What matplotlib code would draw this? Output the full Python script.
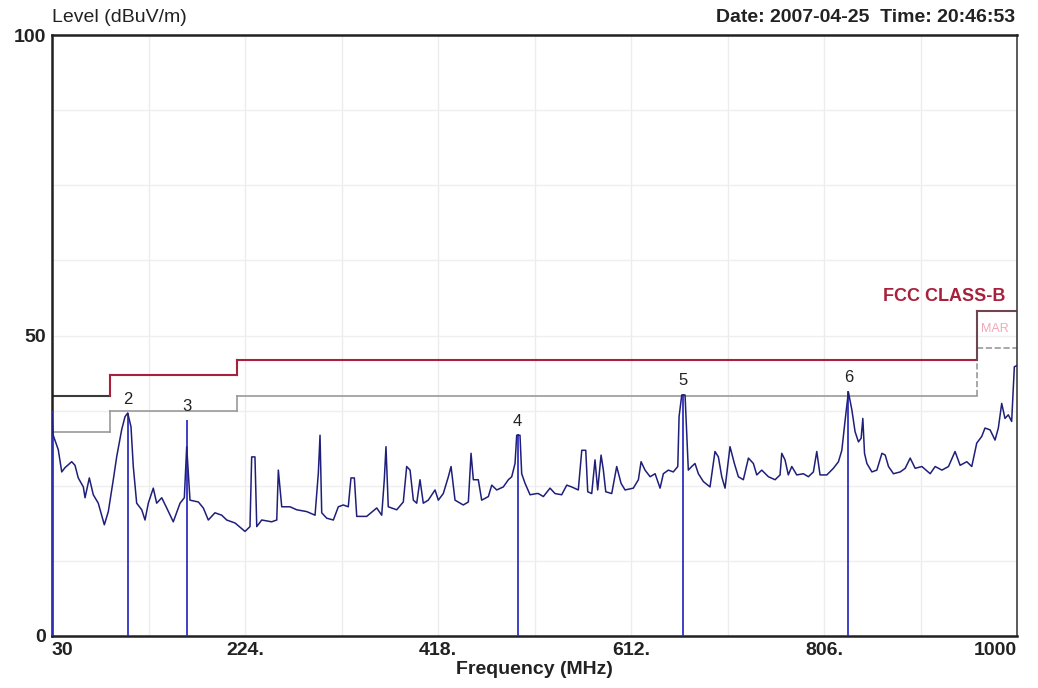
import numpy as np
import matplotlib
matplotlib.use("Agg")
import matplotlib.pyplot as plt

plt.rcParams['font.family'] = ['Liberation Sans', 'DejaVu Sans']

### Scan data ###
freq = [30, 31, 36.3, 39.8, 43, 49.8, 53.1, 56.4, 61.5, 63.2, 67.5, 71.5, 76.5, 82.6, 86.6,
        91.6, 95, 100, 103.4, 106.1, 109.4, 111.7, 115.1, 120.2, 123.5, 126.8, 131.8, 135.2,
        140.3, 145.3, 151.9, 158.7, 163, 165.4, 168.7, 177.1, 182.1, 187.1, 193.8, 200.6,
        205.6, 214, 224, 229, 230.7, 234, 235.8, 240.8, 250.8, 255.9, 257.5, 260.9, 269.2,
        276, 286, 294.4, 297.7, 299.4, 301.1, 306.1, 312.8, 317.8, 322.8, 327.8, 330.5,
        333.9, 336.3, 346.3, 356.4, 361.4, 364, 365.7, 368, 376.5, 383.1, 386.5, 389.9,
        393.2, 396.6, 399.9, 403.2, 408.2, 415, 418.3, 423.3, 428.4, 431.1, 435.1, 443.4,
        448.5, 451.2, 453.5, 458.5, 461.9, 468.6, 472, 477, 483.6, 488.7, 492.1, 495.4,
        497.1, 500.4, 502.1, 505.5, 510.5, 517.2, 518.8, 523.9, 530.6, 535.6, 542.3, 547.4,
        552.4, 559, 562.5, 566.5, 568.5, 572.5, 575.8, 578.5, 581.9, 584.2, 586.6, 592.6,
        597.6, 602, 606, 614.3, 619.4, 622.1, 626.1, 631.2, 636.2, 641.2, 644.5, 649.5,
        654.5, 659, 660.3, 663, 666.3, 668, 669.6, 673, 676.3, 679.7, 684.7, 691.4, 696.4,
        699.8, 703.2, 706.5, 711.5, 715.9, 719.9, 724.9, 730, 735, 738.4, 743.4, 750.1,
        756.8, 761.8, 763.5, 766.8, 770.1, 773.6, 778.6, 785.2, 790.3, 795.3, 798.7, 802,
        808.8, 815.4, 820.5, 823.9, 827.2, 830.5, 834, 837.2, 840.6, 843.3, 845, 846.7,
        849.1, 854.1, 859.1, 864.2, 867.5, 870.8, 875.8, 882.6, 887.6, 892.6, 897.6, 904.4,
        912.7, 917.7, 924.5, 931.1, 937.7, 942.8, 949.5, 954.5, 959.5, 964.5, 967.8, 972.9,
        977.9, 981.2, 984.6, 987.9, 991.2, 994.6, 996.2, 997.3, 1000]
level = [37.0, 33.5, 31.0, 27.3, 28.0, 29.0, 28.4, 26.3, 24.8, 23.0, 26.3, 23.5, 22.1, 18.5, 20.7,
         26.0, 29.8, 34.3, 36.5, 37.1, 34.8, 28.2, 22.1, 21.0, 19.3, 22.1, 24.6, 22.1,
         23.0, 21.3, 19.0, 22.1, 23.0, 31.5, 22.6, 22.3, 21.3, 19.3, 20.5, 20.1,
         19.3, 18.8, 17.4, 18.2, 29.8, 29.8, 18.2, 19.3, 19.0, 19.3, 27.6, 21.5, 21.5,
         21.0, 20.7, 20.1, 27.1, 33.4, 20.5, 19.6, 19.3, 21.5, 21.8, 21.5, 26.3,
         26.3, 19.9, 19.9, 21.3, 20.1, 26.0, 31.5, 21.5, 21.0, 22.3, 28.2, 27.6,
         22.6, 22.1, 26.0, 22.1, 22.6, 24.3, 22.6, 23.7, 26.5, 28.2, 22.6, 21.8,
         22.3, 30.4, 26.0, 26.0, 22.6, 23.2, 25.1, 24.3, 24.8, 26.0, 26.5, 28.7,
         33.4, 33.4, 27.0, 25.4, 23.5, 23.7, 23.7, 23.2, 24.6, 23.7, 23.5, 25.1,
         24.8, 24.3, 30.9, 30.9, 24.0, 23.7, 29.3, 24.3, 30.1, 27.6, 24.0, 23.7,
         28.2, 25.4, 24.3, 24.6, 26.0, 29.0, 27.6, 26.5, 27.0, 24.6, 27.0, 27.6,
         27.3, 28.2, 36.5, 40.1, 40.1, 33.8, 27.6, 28.2, 28.7, 27.0, 25.7, 24.8, 30.7,
         29.8, 26.5, 24.6, 31.5, 28.7, 26.5, 26.0, 29.6, 28.7, 26.8, 27.6, 26.5,
         26.0, 26.8, 30.4, 29.3, 26.8, 28.2, 26.8, 27.0, 26.5, 27.3, 30.7, 26.8,
         26.8, 27.9, 29.0, 30.9, 35.9, 40.6, 37.6, 34.0, 32.3, 32.9, 36.2, 30.4,
         28.7, 27.3, 27.6, 30.4, 30.1, 28.2, 27.0, 27.3, 27.9, 29.6, 27.9, 28.2,
         27.0, 28.2, 27.6, 28.2, 30.7, 28.4, 29.0, 28.2, 32.1, 33.2, 34.6, 34.3,
         32.6, 34.6, 38.7, 36.2, 36.8, 35.7, 40.9, 44.8, 45.0]

### Markers ###
markerIds = ['1', '2', '3', '4', '5', '6']
markerFreq = [30, 106.1, 165.4, 498.0, 664.0, 830.5]
markerLevel = [37.5, 37.1, 36.0, 33.6, 40.3, 40.8]

### FCC class B limit and margin (step edges) ###
limitEdges = [30, 88, 216, 960, 1000]
limitLevel = [40, 43.5, 46, 54]
marginLevel = [34, 37.5, 40, 48]

xTicks = [30, 224, 418, 612, 806, 1000]
xTickLabels = ['30', '224.', '418.', '612.', '806.', '1000']
yTicks = [0, 50, 100]

fig = plt.figure(figsize=(10.38, 6.88), dpi=100, facecolor='w')
ax = fig.add_axes([0.0501, 0.0756, 0.9297, 0.8735])

ax.set_xlim(30, 1000)
ax.set_ylim(0, 100)

# light grid
for gx in np.arange(30 + 97, 1000, 97):
	ax.axvline(gx, color='#ececec', lw=1.0, zorder=0)
for gy in np.arange(12.5, 100, 12.5):
	ax.axhline(gy, color='#efefef', lw=1.0, zorder=0)

# margin line
for i in range(len(marginLevel)):
	ls = '--' if i == len(marginLevel) - 1 else '-'
	ax.plot([limitEdges[i], limitEdges[i + 1]], [marginLevel[i], marginLevel[i]],
		color='#9a9a9a', lw=1.2, ls=ls, zorder=1)
	if i > 0:
		ax.plot([limitEdges[i], limitEdges[i]], [marginLevel[i - 1], marginLevel[i]],
			color='#9a9a9a', lw=1.2, ls=ls, zorder=1)

# limit line
for i in range(len(limitLevel)):
	col = '#3a3a3a' if i == 0 else ('#6e4650' if i == len(limitLevel) - 1 else '#a8203c')
	ax.plot([limitEdges[i], limitEdges[i + 1]], [limitLevel[i], limitLevel[i]],
		color=col, lw=1.5, zorder=2)
	if i > 0:
		ax.plot([limitEdges[i], limitEdges[i]], [limitLevel[i - 1], limitLevel[i]],
			color=col, lw=1.5, zorder=2)

ax.text(1000 - 12, limitLevel[-1] + 2.5, 'FCC CLASS-B', color='#a8203c', fontsize=13,
	fontweight='bold', ha='right', va='center')
ax.text(1000 - 8, (limitLevel[-1] + marginLevel[-1]) / 2, 'MAR', color='#f2a8b8', fontsize=9,
	ha='right', va='center')

# marker lines
ax.vlines(markerFreq, 0, markerLevel, colors='#3030c0', lw=1.3, zorder=3)

# trace
ax.plot(freq, level, color='#1f1f7a', lw=1.1, zorder=4)

for mid, mf, ml in zip(markerIds, markerFreq, markerLevel):
	if mid == '1':
		continue
	ax.annotate(mid, (mf, ml), xytext=(0, 4), textcoords='offset points',
		ha='center', va='bottom', fontsize=12, color='#222222')

# ticks
ax.set_xticks(xTicks)
ax.set_xticklabels(xTickLabels)
ax.set_yticks(yTicks)
ax.tick_params(length=0, labelsize=14, pad=4)
for label in ax.get_xticklabels() + ax.get_yticklabels():
	label.set_fontweight('bold')
	label.set_color('#222222')
xl = ax.get_xticklabels()
xl[0].set_ha('left')
xl[-1].set_ha('right')

for side in ['left', 'bottom', 'top']:
	ax.spines[side].set_color('#202020')
	ax.spines[side].set_linewidth(1.8)
ax.spines['right'].set_color('#404040')
ax.spines['right'].set_linewidth(1.2)

ax.set_xlabel('Frequency (MHz)', fontsize=14, fontweight='bold', labelpad=2, color='#222222')

fig.text(52 / 1038, 1 - 17 / 688, 'Level (dBuV/m)', fontsize=14, ha='left', va='center', color='#222222')
fig.text(1015 / 1038, 1 - 17 / 688, 'Date: 2007-04-25  Time: 20:46:53', fontsize=14,
	fontweight='bold', ha='right', va='center', color='#222222')

plt.savefig('out.png', dpi=100)
